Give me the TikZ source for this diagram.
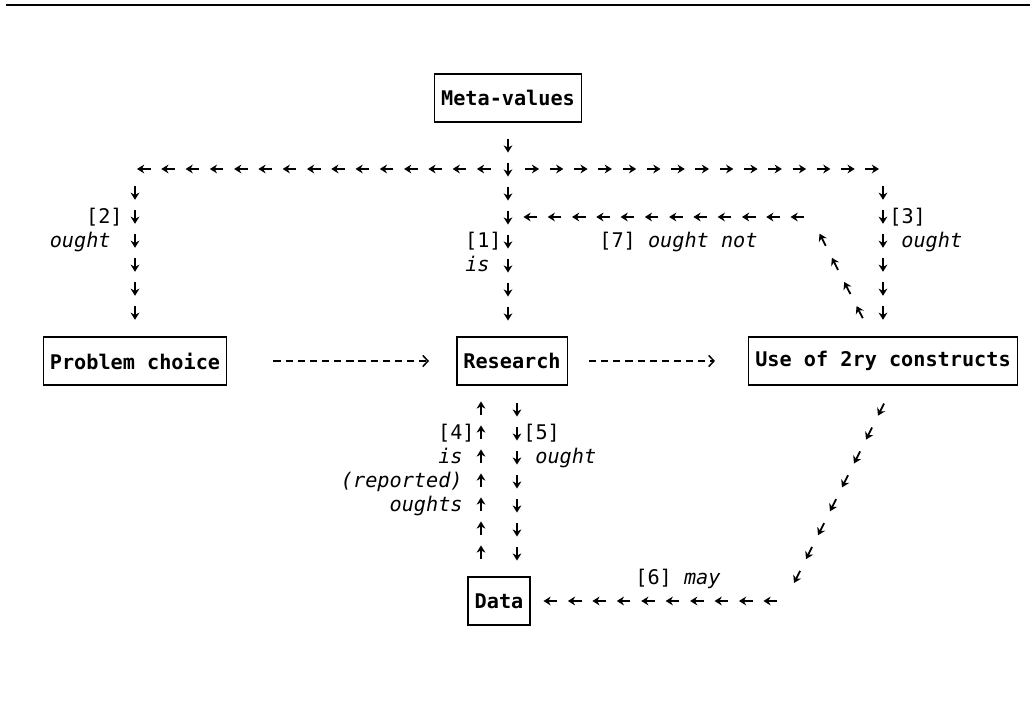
\documentclass[tikz,border=0pt]{standalone}
\usepackage{fontspec}
\newfontfamily\mono{DejaVu Sans Mono}
\usetikzlibrary{arrows.meta, decorations.markings}
\newcommand{\chainarrow}{\draw[line width=.9pt, -{Stealth[length=3.6pt, width=4.4pt]}] (-3.4pt,0) -- (3.4pt,0);}
\tikzstyle{box} = [draw=black, line width=.75pt, font=\mono\bfseries\fontsize{10.1}{12}\selectfont, minimum height=24pt, inner xsep=3.3pt, inner ysep=0pt]
\tikzstyle{anno} = [font=\mono\fontsize{10.1}{12}\selectfont, inner sep=0pt]
\tikzstyle{dasharrow} = [line width=.75pt, dash pattern=on 3.6pt off 2.47pt, -{Straight Barb[length=2.6pt, width=5.6pt]}]
\tikzset{chain/.style n args={3}{postaction={decorate, decoration={markings, mark=between positions #1 and #2 step #3 with {\chainarrow}}}}}

\begin{document}
\begin{tikzpicture}[x=0.5pt, y=-0.5pt]
\useasboundingbox (0,0) rectangle (1034,705);
\draw[line width=1pt] (6,5) -- (1030,5);
  \node (meta) [box] at (508,98) {Meta-values};
  \node (problem) [box] at (135,361) {Problem choice};
  \node (research) [box] at (512,361) {Research};
  \node (use) [box] at (883,361) {Use of 2ry constructs};
  \node (data) [box] at (499,601) {Data};
  \coordinate (hub) at (508,169);
  \coordinate (hub7) at (508,217);
  \coordinate (u7) at ([xshift=-5.5pt]use.north);
  \coordinate (c7) at (811,217);
  \coordinate (u6) at ([xshift=5pt]use.south);
  \coordinate (c6) at (785,601);
  % labels
  \node (l2) [anno, anchor=base east] at (123,224) {[2]};
  \node (o2) [anno, anchor=base east] at (111,248) {\itshape ought};
  \node (l1) [anno, anchor=base east] at (502,248) {[1]};
  \node (i1) [anno, anchor=base east] at (490,272) {\itshape is};
  \node (l3) [anno, anchor=base west] at (889,224) {[3]};
  \node (o3) [anno, anchor=base west] at (901,248) {\itshape ought};
  \node (l7) [anno, anchor=base west] at (599,248) {[7] \itshape ought not};
  \node (l4) [anno, anchor=base east] at (475,440) {[4]};
  \node (i4) [anno, anchor=base east] at (463,464) {\itshape is};
  \node (r4) [anno, anchor=base east] at (463,488) {\itshape (reported)};
  \node (o4) [anno, anchor=base east] at (463,512) {\itshape oughts};
  \node (l5) [anno, anchor=base west] at (523,440) {[5]};
  \node (o5) [anno, anchor=base west] at (535,464) {\itshape ought};
  \node (l6) [anno, anchor=base west] at (635,584) {[6] \itshape may};
  % arrow chains
  \path[chain={11.5pt}{100pt}{12pt}] (meta.south) -- (meta.south |- research.north);
  \path[chain={12.14pt}{184pt}{12.14pt}, chain={198.5pt}{264pt}{12pt}] (hub) -| (problem.north);
  \path[chain={12.14pt}{184pt}{12.14pt}, chain={199.5pt}{266pt}{12pt}] (hub) -| (use.north);
  \path[chain={13.55pt}{56pt}{13.55pt}, chain={73.75pt}{208pt}{12.14pt}] (u7) -- (c7) -- (hub7);
  \path[chain={13.37pt}{110pt}{13.37pt}, chain={127.8pt}{240pt}{12.22pt}] (u6) -- (c6) -- (data.east);
  \path[chain={12pt}{90pt}{12pt}] ([xshift=-9pt]data.north) -- ([xshift=-9pt]data.north |- research.south);
  \path[chain={12pt}{90pt}{12pt}] ([xshift=9pt]data.north |- research.south) -- ([xshift=9pt]data.north);
  \draw[dasharrow, shorten <=23pt, shorten >=13.5pt] (problem) -- (research);
  \draw[dasharrow, shorten <=10.5pt, shorten >=16.5pt] (research) -- (use);
\end{tikzpicture}
\end{document}
